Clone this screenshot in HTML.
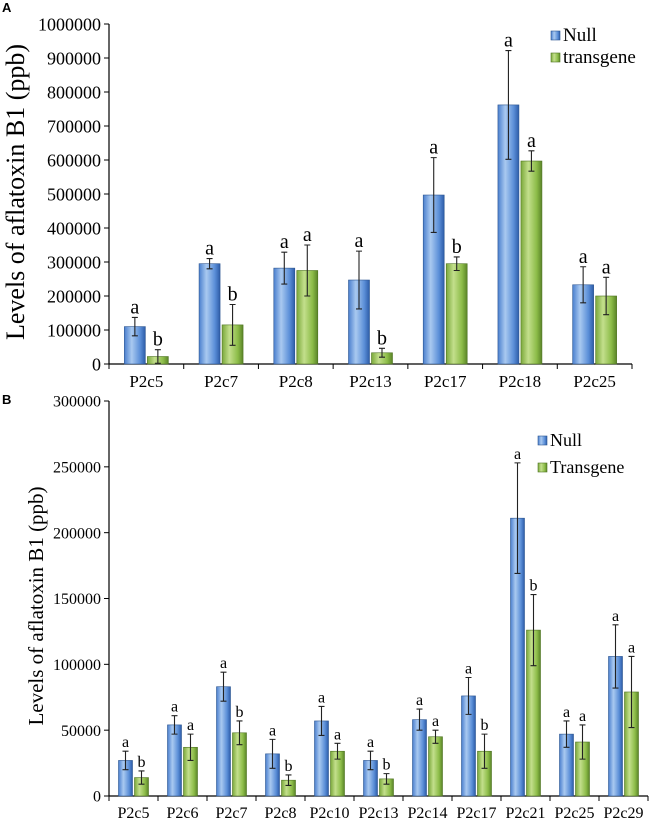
<!DOCTYPE html>
<html><head><meta charset="utf-8">
<style>
body{margin:0;background:#fff;}
svg{display:block;}
svg text{font-family:"Liberation Serif","Times New Roman",serif;}
svg text.pl{font-family:"Liberation Sans",sans-serif;font-weight:bold;font-size:13px;}
</style></head>
<body>
<svg id="c" width="649" height="821">
<defs>
<linearGradient id="gb" x1="0" x2="1" y1="0" y2="0">
<stop offset="0" stop-color="#4a7fce"/><stop offset="0.35" stop-color="#a9c9f0"/><stop offset="0.75" stop-color="#5b8fd8"/><stop offset="1" stop-color="#2d5ca8"/></linearGradient>
<linearGradient id="gg" x1="0" x2="1" y1="0" y2="0">
<stop offset="0" stop-color="#7aa83a"/><stop offset="0.35" stop-color="#c3df8c"/><stop offset="0.75" stop-color="#8cbc48"/><stop offset="1" stop-color="#5a8428"/></linearGradient>
</defs>
<text class="pl" x="2" y="12">A</text>
<text class="pl" x="2" y="404">B</text>
</svg>
<script>
const catsA=["P2c5","P2c7","P2c8","P2c13","P2c17","P2c18","P2c25"];
const nullA=[110000,295000,282000,247000,497000,762000,233000];
const nullErrA=[27000,15000,47000,85000,110000,160000,53000];
const tgA=[22000,115000,275000,33000,295000,597000,200000];
const tgErrA=[20000,60000,75000,13000,20000,30000,55000];
const nullLetA=["a","a","a","a","a","a","a"];
const tgLetA=["b","b","a","b","b","a","a"];
const ticksA=[0,100000,200000,300000,400000,500000,600000,700000,800000,900000,1000000];

const catsB=["P2c5","P2c6","P2c7","P2c8","P2c10","P2c13","P2c14","P2c17","P2c21","P2c25","P2c29"];
const nullB=[27000,54000,83000,32000,57000,27000,58000,76000,211000,47000,106000];
const nullErrB=[7000,7000,11000,11000,11000,7000,8000,14000,42000,10000,24000];
const tgB=[14000,37000,48000,12000,34000,13000,45000,34000,126000,41000,79000];
const tgErrB=[5000,10000,9000,4000,6000,4000,5000,13000,27000,13000,27000];
const nullLetB=["a","a","a","a","a","a","a","a","a","a","a"];
const tgLetB=["b","a","b","b","a","b","a","b","b","a","a"];
const ticksB=[0,50000,100000,150000,200000,250000,300000];

const NS="http://www.w3.org/2000/svg";
const svg=document.getElementById('c');
const SERIF='Liberation Serif, Times New Roman, serif';
function mk(t,a,txt){const e=document.createElementNS(NS,t);for(const k in a)e.setAttribute(k,a[k]);if(t==='text')e.setAttribute('font-family',SERIF);if(txt!==undefined)e.textContent=txt;svg.appendChild(e);return e;}

function chart(o){
  const y=v=>o.y0-(v/o.max)*(o.y0-o.y1);
  const step=(o.x1-o.x0)/o.cats.length;
  let e;
  e=mk('line',{x1:o.x0,x2:o.x0,y1:o.y1,y2:o.y0,stroke:'#000','stroke-width':1.2});
  
  e=mk('line',{x1:o.x0,x2:o.x1,y1:o.y0,y2:o.y0,stroke:'#000','stroke-width':1.2});
  
  o.ticks.forEach(t=>{
    mk('line',{x1:o.x0-5,x2:o.x0,y1:y(t),y2:y(t),stroke:'#000'});
    e=mk('text',{x:o.x0-8,y:y(t)+o.tf*0.35,'text-anchor':'end','font-size':o.tf},String(t));
    
  });
  for(let i=0;i<=o.cats.length;i++)mk('line',{x1:o.x0+i*step,x2:o.x0+i*step,y1:o.y0,y2:o.y0+5,stroke:'#000'});
  o.cats.forEach((c,i)=>{
    const cx=o.x0+(i+0.5)*step;
    e=mk('text',{x:cx,y:o.y0+o.xf+6,'text-anchor':'middle','font-size':o.xf},c);
    
    [[o.nv,o.ne,o.nl,'url(#gb)','#2c5590',-1],[o.tv,o.te,o.tl,'url(#gg)','#4f7422',0]].forEach(([v,er,l,f,s,off])=>{
      const bx=cx+off*o.bw+(off<0?-1:1);
      e=mk('rect',{x:bx,y:y(v[i]),width:o.bw,height:o.y0-y(v[i]),fill:f,stroke:s,'stroke-width':0.6});
      
      const mx=bx+o.bw/2,hi=y(v[i]+er[i]),lo=y(Math.max(0,v[i]-er[i]));
      e=mk('path',{d:`M${mx},${hi}V${lo}M${mx-3},${hi}H${mx+3}M${mx-3},${lo}H${mx+3}`,stroke:'#222','stroke-width':1.1,fill:'none'});
      
      e=mk('text',{x:mx,y:hi-4,'text-anchor':'middle','font-size':o.lf},l[i]);
      
    });
  });
  e=mk('text',{transform:`translate(${o.tx},${o.ty}) rotate(-90)`,'text-anchor':'middle','font-size':o.af},'Levels of aflatoxin B1 (ppb)');
  
  o.leg.forEach((L,k)=>{
    const ly=o.ly+k*o.lg;
    e=mk('rect',{x:o.lx,y:ly-o.lsz-1,width:o.lsz,height:o.lsz,fill:k?'url(#gg)':'url(#gb)',stroke:k?'#4f7422':'#2c5590','stroke-width':0.6});
    
    e=mk('text',{x:o.lx+o.lsz+3,y:ly,'font-size':o.lfs},L);
    
  });
}
chart({p:'a',cats:catsA,nv:nullA,ne:nullErrA,tv:tgA,te:tgErrA,nl:nullLetA,tl:tgLetA,ticks:ticksA,max:1000000,
 x0:109,x1:632,y0:364,y1:24,bw:21,tf:18,xf:17,lf:20,af:26,tx:24,ty:192,
 leg:['Null','transgene'],lx:551,ly:41,lg:22,lsz:9,lfs:19});
chart({p:'b',cats:catsB,nv:nullB,ne:nullErrB,tv:tgB,te:tgErrB,nl:nullLetB,tl:tgLetB,ticks:ticksB,max:300000,
 x0:109,x1:648,y0:796,y1:401,bw:14,tf:16,xf:16,lf:16,af:21,tx:43,ty:606,
 leg:['Null','Transgene'],lx:538,ly:446,lg:27,lsz:9,lfs:18});
</script>
</body></html>
